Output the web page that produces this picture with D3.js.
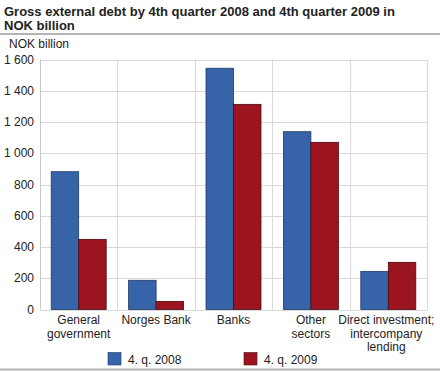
<!DOCTYPE html>
<html>
<head>
<meta charset="utf-8">
<script src="https://cdn.jsdelivr.net/npm/d3@7"></script>
<style>
  body { margin: 0; background: #fff; }
  svg { display: block; font-family: "Liberation Sans", Arial, sans-serif; }
</style>
</head>
<body>
<div id="chart"></div>
<script>
// data
var categories = [["General", "government"], ["Norges Bank"], ["Banks"], ["Other", "sectors"], ["Direct investment;", "intercompany", "lending"]];
var q2008 = [882, 187, 1544, 1138, 244];
var q2009 = [449, 52, 1313, 1070, 302];
var seriesNames = ["4. q. 2008", "4. q. 2009"];
var colors = ["#3764a8", "#9b141f"];
var strokes = ["#1f3a66", "#4a0a10"];
var yTicks = [0, 200, 400, 600, 800, 1000, 1200, 1400, 1600];

var width = 440, height = 371;
var plotLeft = 40, plotRight = 427, plotTop = 59.5, plotBottom = 309.5;

var svg = d3.select("#chart").append("svg")
    .attr("width", width)
    .attr("height", height);

// title
svg.append("text").attr("x", 4).attr("y", 16)
    .style("font-size", "13px").style("font-weight", "bold").style("fill", "#222")
    .text("Gross external debt by 4th quarter 2008 and 4th quarter 2009 in");
svg.append("text").attr("x", 4).attr("y", 30)
    .style("font-size", "13px").style("font-weight", "bold").style("fill", "#222")
    .text("NOK billion");
svg.append("line").attr("x1", 0).attr("x2", width).attr("y1", 34).attr("y2", 34)
    .style("stroke", "#b4b4b4").style("stroke-width", 2);
svg.append("line").attr("x1", 0).attr("x2", width).attr("y1", 369.5).attr("y2", 369.5)
    .style("stroke", "#b4b4b4").style("stroke-width", 2);

svg.append("text").attr("x", 9).attr("y", 48)
    .style("font-size", "12px").style("fill", "#222")
    .text("NOK billion");

var x = d3.scaleBand().domain(d3.range(categories.length)).range([plotLeft, plotRight]);
var y = d3.scaleLinear().domain([0, 1600]).range([plotBottom, plotTop]);

// grid
svg.append("g").selectAll("line")
    .data(yTicks).enter().append("line")
    .attr("x1", plotLeft).attr("x2", plotRight)
    .attr("y1", function(d) { return Math.round(y(d)) + 0.5; })
    .attr("y2", function(d) { return Math.round(y(d)) + 0.5; })
    .style("stroke", "#d9d9d9");

svg.append("g").selectAll("line")
    .data(d3.range(categories.length + 1)).enter().append("line")
    .attr("x1", function(d) { return Math.round(plotLeft + d * x.bandwidth()) + 0.5; })
    .attr("x2", function(d) { return Math.round(plotLeft + d * x.bandwidth()) + 0.5; })
    .attr("y1", y(1600)).attr("y2", y(0))
    .style("stroke", function(d) { return d == 0 ? "#c8c8c8" : "#d9d9d9"; });

// y axis labels
svg.append("g").selectAll("text")
    .data(yTicks).enter().append("text")
    .attr("x", 34)
    .attr("y", function(d) { return y(d) + 4; })
    .attr("text-anchor", "end")
    .style("font-size", "12px").style("fill", "#222")
    .text(function(d) { return d3.format(",")(d).replace(",", " "); });

// bars
var barW = 27.5;
[q2008, q2009].forEach(function(series, s) {
    svg.append("g").selectAll("rect")
        .data(series).enter().append("rect")
        .attr("x", function(d, i) { return x(i) + x.bandwidth() / 2 - barW + s * barW; })
        .attr("y", function(d) { return y(d); })
        .attr("width", barW)
        .attr("height", function(d) { return y(0) - y(d); })
        .style("fill", colors[s])
        .style("stroke", strokes[s])
        .style("stroke-width", 0.8);
});

// category labels
var cat = svg.append("g").selectAll("text")
    .data(categories).enter().append("text")
    .attr("x", function(d, i) { return x(i) + x.bandwidth() / 2 + (i == 4 ? -2 : 0); })
    .attr("y", 324)
    .attr("text-anchor", "middle")
    .style("font-size", "12px").style("fill", "#222");
cat.selectAll("tspan")
    .data(function(d) { return d; }).enter().append("tspan")
    .attr("x", function() { return d3.select(this.parentNode).attr("x"); })
    .attr("dy", function(d, i) { return i == 0 ? 0 : 13.5; })
    .text(function(d) { return d; });

// legend
var legX = [108, 244];
seriesNames.forEach(function(name, s) {
    svg.append("rect").attr("x", legX[s]).attr("y", 352.5)
        .attr("width", 13).attr("height", 12.5)
        .style("fill", colors[s]).style("stroke", strokes[s]).style("stroke-width", 0.6);
    svg.append("text").attr("x", legX[s] + 20).attr("y", 363.5)
        .style("font-size", "12px").style("fill", "#222")
        .text(name);
});
</script>
</body>
</html>
